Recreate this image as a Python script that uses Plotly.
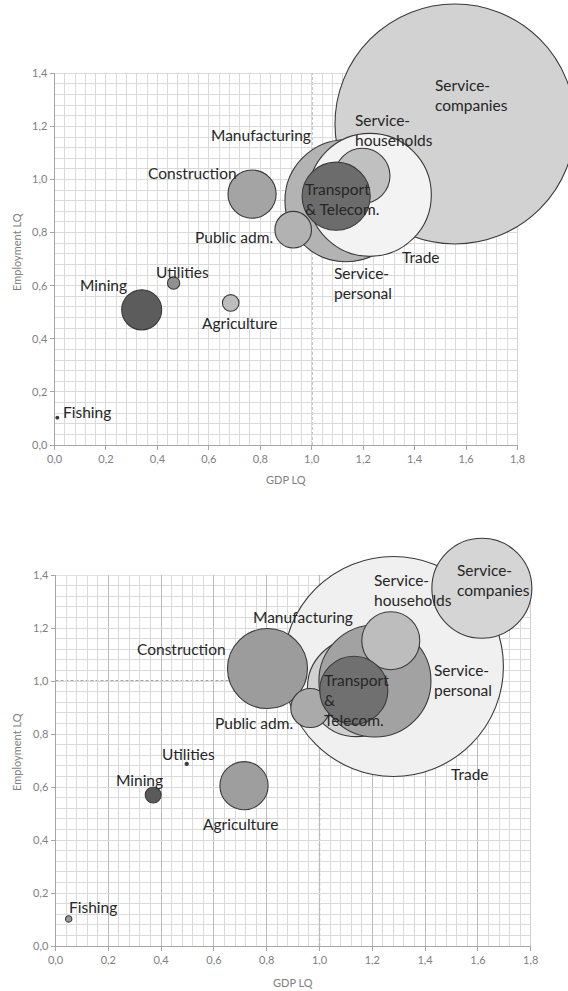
import plotly.graph_objects as go

W, H = 568, 991

# ---------------- data ----------------
# Top chart (draw order, back to front)
top_sectors = ["Service-companies", "Manufacturing", "Service-personal", "Trade",
               "Service-households", "Transport & Telecom.", "Construction", "Public adm.",
               "Mining", "Utilities", "Agriculture", "Fishing"]
top_gdp_lq = [1.557, 1.133, 1.133, 1.226, 1.197, 1.095, 0.768, 0.928, 0.339, 0.463, 0.685, 0.011]
top_emp_lq = [1.209, 0.918, 0.920, 0.942, 1.014, 0.937, 0.945, 0.811, 0.509, 0.610, 0.535, 0.103]
top_size = [144.0, 36.0, 37.2, 37.8, 7.6, 11.6, 5.8, 3.35, 4.0, 0.38, 0.69, 0.02]

# Bottom chart (draw order, back to front)
bot_sectors = ["Trade", "Service-companies", "Construction", "Manufacturing", "Public adm.",
               "Service-personal", "Service-households", "Transport & Telecom.",
               "Agriculture", "Mining", "Utilities", "Fishing"]
bot_gdp_lq = [1.280, 1.615, 0.803, 1.140, 0.965, 1.210, 1.270, 1.130, 0.714, 0.370, 0.497, 0.050]
bot_emp_lq = [1.055, 1.350, 1.047, 0.975, 0.898, 1.000, 1.152, 0.965, 0.605, 0.570, 0.687, 0.102]
bot_size = [121.0, 25.0, 16.0, 24.0, 3.8, 31.4, 8.4, 11.6, 5.8, 0.64, 0.026, 0.10]

x_ticks = [0.0, 0.2, 0.4, 0.6, 0.8, 1.0, 1.2, 1.4, 1.6, 1.8]
x_ticklabels = ["0,0", "0,2", "0,4", "0,6", "0,8", "1,0", "1,2", "1,4", "1,6", "1,8"]
y_ticks = [0.0, 0.2, 0.4, 0.6, 0.8, 1.0, 1.2, 1.4]
y_ticklabels = ["0,0", "0,2", "0,4", "0,6", "0,8", "1,0", "1,2", "1,4"]

# ---------------- styles ----------------
fill_colors = {
    "top": {"Service-companies": "#d2d2d2", "Manufacturing": "#b5b5b5", "Service-personal": "#b3b3b3",
            "Trade": "#f3f3f3", "Service-households": "#c0c0c0", "Transport & Telecom.": "#6c6c6c",
            "Construction": "#a4a4a4", "Public adm.": "#b2b2b2", "Mining": "#5c5c5c",
            "Utilities": "#909090", "Agriculture": "#bdbdbd", "Fishing": "#333333"},
    "bot": {"Trade": "#f0f0f0", "Service-companies": "#d5d5d5", "Construction": "#9c9c9c",
            "Manufacturing": "#d0d0d0", "Public adm.": "#aaaaaa", "Service-personal": "#a2a2a2",
            "Service-households": "#bdbdbd", "Transport & Telecom.": "#707070",
            "Agriculture": "#9e9e9e", "Mining": "#5a5a5a", "Utilities": "#444444", "Fishing": "#9a9a9a"},
}

top_labels = [
    ("Service-<br>companies", 1.470, 1.320, "left"),
    ("Service-<br>households", 1.162, 1.185, "left"),
    ("Manufacturing", 1.006, 1.168, "right"),
    ("Construction", 0.716, 1.024, "right"),
    ("Transport<br>& Telecom.", 0.967, 0.927, "left"),
    ("Public adm.", 0.857, 0.785, "right"),
    ("Trade", 1.424, 0.707, "center"),
    ("Service-<br>personal", 1.078, 0.609, "left"),
    ("Utilities", 0.496, 0.651, "center"),
    ("Mining", 0.192, 0.603, "center"),
    ("Agriculture", 0.720, 0.459, "center"),
    ("Fishing", 0.025, 0.123, "left"),
]
bot_labels = [
    ("Service-<br>companies", 1.513, 1.380, "left"),
    ("Service-<br>households", 1.200, 1.345, "left"),
    ("Manufacturing", 1.134, 1.240, "right"),
    ("Construction", 0.652, 1.120, "right"),
    ("Transport<br>&<br>Telecom.", 1.008, 0.930, "left"),
    ("Public adm.", 0.907, 0.843, "right"),
    ("Service-<br>personal", 1.425, 1.003, "left"),
    ("Trade", 1.571, 0.650, "center"),
    ("Utilities", 0.502, 0.724, "center"),
    ("Mining", 0.319, 0.626, "center"),
    ("Agriculture", 0.701, 0.462, "center"),
    ("Fishing", 0.042, 0.148, "left"),
]

LABEL_FONT = dict(family="Lato, 'Open Sans', sans-serif", size=15.5, color="#262626")
TICK_FONT = dict(family="Lato, 'Open Sans', sans-serif", size=11, color="#808080")
GRID = "#dadada"
AXIS = "#a6a6a6"
REF_LINE = dict(color="#4a4a4a", width=1.2, dash="3px,2px")


def px_x(px):
    return px / W


def px_y(py):
    return 1 - py / H


def diam(sizes):
    # bubble area proportional to size value
    return [20.0 * (s ** 0.5) for s in sizes]


fig = go.Figure()

panels = [
    dict(key="top", xa="x", ya="y", sectors=top_sectors, gx=top_gdp_lq, ey=top_emp_lq, sz=top_size,
         xdom=(54.5, 517.5), ydom=(445.0, 73.3), labels=top_labels, major_v=GRID,
         xtitle=(286, 479), ytitle=(16, 252)),
    dict(key="bot", xa="x2", ya="y2", sectors=bot_sectors, gx=bot_gdp_lq, ey=bot_emp_lq, sz=bot_size,
         xdom=(55.5, 530.7), ydom=(946.0, 575.0), labels=bot_labels, major_v="#bbbbbb",
         xtitle=(293, 982), ytitle=(16, 752)),
]

annotations = []
shapes = []
layout_axes = {}

for i, p in enumerate(panels):
    fig.add_trace(go.Scatter(
        x=p["gx"], y=p["ey"], mode="markers", xaxis=p["xa"], yaxis=p["ya"],
        text=p["sectors"], hoverinfo="text", cliponaxis=False, showlegend=False,
        marker=dict(size=diam(p["sz"]), sizemode="diameter", sizeref=1,
                    color=[fill_colors[p["key"]][s] for s in p["sectors"]],
                    opacity=1, line=dict(color="#3a3a3a", width=1.1)),
    ))
    xname = "xaxis" if i == 0 else "xaxis2"
    yname = "yaxis" if i == 0 else "yaxis2"
    layout_axes[xname] = dict(
        domain=[px_x(p["xdom"][0]), px_x(p["xdom"][1])], range=[0, 1.8], anchor=p["ya"],
        tickvals=x_ticks, ticktext=x_ticklabels, tickfont=TICK_FONT,
        showgrid=True, gridcolor=p["major_v"], gridwidth=1, zeroline=False,
        showline=True, linecolor=AXIS, linewidth=1, ticks="outside", ticklen=4, tickcolor=AXIS,
        minor=dict(dtick=0.04, tick0=0, showgrid=True, gridcolor=GRID, gridwidth=1),
        layer="below traces", fixedrange=True, automargin=False,
    )
    layout_axes[yname] = dict(
        domain=[px_y(p["ydom"][0]), px_y(p["ydom"][1])], range=[0, 1.4], anchor=p["xa"],
        tickvals=y_ticks, ticktext=y_ticklabels, tickfont=TICK_FONT,
        showgrid=True, gridcolor=GRID, gridwidth=1, zeroline=False,
        showline=True, linecolor=AXIS, linewidth=1, ticks="outside", ticklen=4, tickcolor=AXIS,
        minor=dict(dtick=0.04, tick0=0, showgrid=True, gridcolor=GRID, gridwidth=1),
        layer="below traces", fixedrange=True, automargin=False,
    )
    # plot border (top & right)
    shapes.append(dict(type="line", xref=p["xa"], yref=p["ya"], x0=0, x1=1.8, y0=1.4, y1=1.4,
                       line=dict(color="#c4c4c4", width=1), layer="below"))
    shapes.append(dict(type="line", xref=p["xa"], yref=p["ya"], x0=1.8, x1=1.8, y0=0, y1=1.4,
                       line=dict(color="#aaaaaa", width=1), layer="below"))
    # reference lines at LQ = 1
    shapes.append(dict(type="line", xref=p["xa"], yref=p["ya"], x0=0, x1=1.0, y0=1.0, y1=1.0,
                       line=REF_LINE, layer="below"))
    shapes.append(dict(type="line", xref=p["xa"], yref=p["ya"], x0=1.0, x1=1.0, y0=0, y1=1.4,
                       line=REF_LINE, layer="below"))
    for txt, lx, ly, anc in p["labels"]:
        annotations.append(dict(text=txt, x=lx, y=ly, xref=p["xa"], yref=p["ya"], showarrow=False,
                                xanchor=anc, yanchor="middle", align="left", font=LABEL_FONT))
    annotations.append(dict(text="GDP LQ", x=px_x(p["xtitle"][0]), y=px_y(p["xtitle"][1]),
                            xref="paper", yref="paper", showarrow=False, xanchor="center",
                            yanchor="middle", font=TICK_FONT))
    annotations.append(dict(text="Employment LQ", x=px_x(p["ytitle"][0]), y=px_y(p["ytitle"][1]),
                            xref="paper", yref="paper", showarrow=False, xanchor="center",
                            yanchor="middle", textangle=-90, font=TICK_FONT))

fig.update_layout(
    width=W, height=H, margin=dict(l=0, r=0, t=0, b=0, autoexpand=False),
    paper_bgcolor="white", plot_bgcolor="white",
    annotations=annotations, shapes=shapes, showlegend=False,
    **layout_axes,
)

fig.write_html(
    "out.html",
    config={"displayModeBar": False},
    post_script="document.body.style.margin='0';document.body.style.padding='0';"
                "document.body.style.overflow='hidden';",
)
